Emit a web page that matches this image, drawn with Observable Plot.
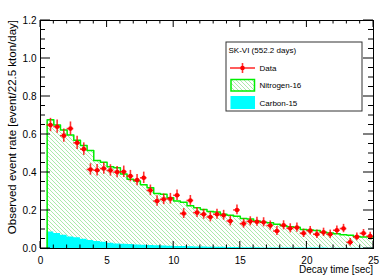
<!DOCTYPE html>
<html><head><meta charset="utf-8">
<script src="https://cdn.jsdelivr.net/npm/d3@7"></script>
<script src="https://cdn.jsdelivr.net/npm/@observablehq/plot@0.6"></script>
<style>
body{margin:0;background:#fff}
svg{font-family:"Liberation Sans",Arial,Helvetica,sans-serif}
</style>
</head><body><div id="chart"></div><script>
// Bin centres (decay time, sec) of the 0.5 s bins
const time = [0.75,1.25,1.75,2.25,2.75,3.25,3.75,4.25,4.75,5.25,5.75,6.25,6.75,7.25,7.75,8.25,8.75,9.25,9.75,10.25,10.75,11.25,11.75,12.25,12.75,13.25,13.75,14.25,14.75,15.25,15.75,16.25,16.75,17.25,17.75,18.25,18.75,19.25,19.75,20.25,20.75,21.25,21.75,22.25,22.75,23.25,23.75,24.25,24.75];
const binHalfWidth = 0.25;
// Observed data (event/22.5 kton/day)
const dataRate = [0.650,0.641,0.594,0.631,0.556,0.523,0.416,0.412,0.421,0.411,0.402,0.404,0.381,0.360,0.372,0.306,0.250,0.259,0.262,0.280,0.184,0.253,0.189,0.180,0.166,0.180,0.175,0.145,0.203,0.131,0.143,0.141,0.138,0.121,0.092,0.122,0.106,0.110,0.080,0.094,0.075,0.085,0.075,0.096,0.105,0.033,0.061,0.080,0.065];
const dataErr = [0.035,0.035,0.035,0.035,0.035,0.033,0.030,0.030,0.030,0.030,0.030,0.030,0.030,0.030,0.030,0.028,0.028,0.028,0.028,0.028,0.026,0.026,0.026,0.026,0.026,0.026,0.026,0.026,0.026,0.024,0.024,0.024,0.024,0.024,0.024,0.024,0.024,0.024,0.022,0.022,0.022,0.022,0.022,0.022,0.022,0.020,0.020,0.020,0.020];
// Nitrogen-16 expectation (stacked total)
const nitrogen16 = [0.677,0.650,0.624,0.598,0.570,0.542,0.516,0.463,0.454,0.430,0.425,0.392,0.365,0.355,0.335,0.320,0.290,0.285,0.267,0.250,0.244,0.225,0.215,0.205,0.195,0.192,0.180,0.175,0.170,0.158,0.155,0.145,0.138,0.135,0.128,0.120,0.115,0.112,0.100,0.098,0.095,0.085,0.082,0.078,0.072,0.070,0.063,0.061,0.060];
// Carbon-15 expectation
const carbon15 = [0.087,0.079,0.070,0.061,0.056,0.049,0.042,0.037,0.033,0.028,0.024,0.022,0.021,0.019,0.017,0.016,0.014,0.013,0.012,0.011,0.010,0.009,0.008,0.008,0.007,0.006,0.006,0.005,0.005,0.004,0.004,0.004,0.003,0.003,0.003,0.003,0.002,0.002,0.002,0.002,0.002,0.002,0.001,0.001,0.001,0.001,0.001,0.001,0.001];
const xTicks = [0,5,10,15,20,25];
const xTickLabels = ["0","5","10","15","20","25"];
const yTicks = [0,0.2,0.4,0.6,0.8,1.0,1.2];
const yTickLabels = ["0.0","0.2","0.4","0.6","0.8","1.0","1.2"];
const xTitle = "Decay time [sec]";
const yTitle = "Observed event rate [event/22.5 kton/day]";
const legendTitle = "SK-VI (552.2 days)";
const legendNames = ["Data","Nitrogen-16","Carbon-15"];

const rows = time.map((t,i)=>({t, lo:t-binHalfWidth, hi:t+binHalfWidth, rate:dataRate[i], err:dataErr[i], n16:nitrogen16[i], c15:carbon15[i]}));
const last = rows[rows.length-1];
const stepN = [{x:rows[0].lo,y:0}, ...rows.map(r=>({x:r.lo,y:r.n16})), {x:last.hi,y:last.n16}];
const areaN = [...rows.map(r=>({x:r.lo,y:r.n16})), {x:last.hi,y:last.n16}];
const areaC = [...rows.map(r=>({x:r.lo,y:r.c15})), {x:last.hi,y:last.c15}];

const GREEN = "#00ee00";
const chart = Plot.plot({
  width:389, height:279,
  marginLeft:40, marginRight:16, marginTop:20, marginBottom:31,
  style:{fontSize:"10px", fontFamily:'"Liberation Sans",Arial,sans-serif', background:"white", overflow:"visible"},
  x:{domain:[0,25]},
  y:{domain:[0,1.2]},
  marks:[
    Plot.areaY(areaN,{x:"x",y:"y",curve:"step-after",fill:"url(#hatchN16)"}),
    Plot.areaY(areaC,{x:"x",y:"y",curve:"step-after",fill:"#00ffff"}),
    Plot.line(stepN,{x:"x",y:"y",curve:"step-after",stroke:GREEN,strokeWidth:1.5}),
    Plot.ruleX(rows,{x:"t",y1:d=>d.rate-d.err,y2:d=>d.rate+d.err,stroke:"#ff0000",strokeWidth:1.6,strokeOpacity:0.8}),
    Plot.ruleY(rows,{y:"rate",x1:"lo",x2:"hi",stroke:"#ff0000",strokeWidth:1.6,strokeOpacity:0.8}),
    Plot.dot(rows,{x:"t",y:"rate",r:2.3,fill:"#ff0000"}),
    Plot.frame({stroke:"black",strokeWidth:1}),
    Plot.axisX({ticks:xTicks,tickSize:0,tickPadding:8,tickFormat:(d)=>xTickLabels[xTicks.indexOf(d)],label:null,fill:"black"}),
    Plot.axisY({ticks:yTicks,tickSize:0,tickPadding:4,tickFormat:d=>yTickLabels[yTicks.indexOf(d)],label:null,fill:"black"})
  ]
});
document.getElementById("chart").appendChild(chart);

const svg = d3.select(chart);
const sx = chart.scale("x"), sy = chart.scale("y");
const X = v=>sx.apply(v), Y = v=>sy.apply(v);
const xl = X(0), xr = X(25), yb = Y(0), yt = Y(1.2);

// hatch pattern
const defs = svg.append("defs");
defs.append("pattern").attr("id","hatchN16").attr("patternUnits","userSpaceOnUse").attr("width",4).attr("height",4)
  .append("path").attr("d","M-1,-1L5,5M3,-1L5,1M-1,3L1,5").attr("stroke","#8fe38f").attr("stroke-width",0.75).attr("fill","none");

// ROOT-style inward ticks on all four sides
const tg = svg.append("g").attr("stroke","black").attr("stroke-width",1);
for (let i=0;i<=25;i++){
  const x = X(i), L = (i%5===0)?7:3.5;
  tg.append("line").attr("x1",x).attr("x2",x).attr("y1",yb).attr("y2",yb-L);
  tg.append("line").attr("x1",x).attr("x2",x).attr("y1",yt).attr("y2",yt+L);
}
for (let i=0;i<=24;i++){
  const y = Y(i*0.05), L = (i%4===0)?10:5;
  tg.append("line").attr("x1",xl).attr("x2",xl+L).attr("y1",y).attr("y2",y);
  tg.append("line").attr("x1",xr).attr("x2",xr-L).attr("y1",y).attr("y2",y);
}

// axis titles
svg.append("text").attr("x",xr).attr("y",269).attr("dy","0.35em").attr("text-anchor","end")
  .attr("font-size",10).attr("fill","black").text(xTitle);
svg.append("text").attr("transform",`translate(12,${yt}) rotate(-90)`).attr("dy","0.35em").attr("text-anchor","end")
  .attr("font-size",11.5).attr("fill","black").text(yTitle);

// legend
const lg = svg.append("g").attr("font-size",8).attr("fill","black").attr("text-anchor","start");
lg.append("rect").attr("x",226).attr("y",42).attr("width",136).attr("height",69).attr("fill","white").attr("stroke","#333").attr("stroke-width",1);
lg.append("text").attr("x",228.5).attr("y",50).attr("dy","0.35em").text(legendTitle);
lg.append("line").attr("x1",230).attr("x2",255).attr("y1",68).attr("y2",68).attr("stroke","#ff0000").attr("stroke-width",1.6).attr("stroke-opacity",0.8);
lg.append("line").attr("x1",242.5).attr("x2",242.5).attr("y1",63).attr("y2",73).attr("stroke","#ff0000").attr("stroke-width",1.6).attr("stroke-opacity",0.8);
lg.append("circle").attr("cx",242.5).attr("cy",68).attr("r",2.3).attr("fill","#ff0000");
lg.append("text").attr("x",259.5).attr("y",68).attr("dy","0.35em").text(legendNames[0]);
lg.append("rect").attr("x",231).attr("y",79.5).attr("width",23.5).attr("height",11.5).attr("fill","url(#hatchN16)").attr("stroke",GREEN).attr("stroke-width",1.5);
lg.append("text").attr("x",259.5).attr("y",85).attr("dy","0.35em").text(legendNames[1]);
lg.append("rect").attr("x",230.5).attr("y",96).attr("width",24.5).attr("height",13).attr("fill","#00ffff");
lg.append("text").attr("x",259.5).attr("y",102.7).attr("dy","0.35em").text(legendNames[2]);
</script></body></html>
